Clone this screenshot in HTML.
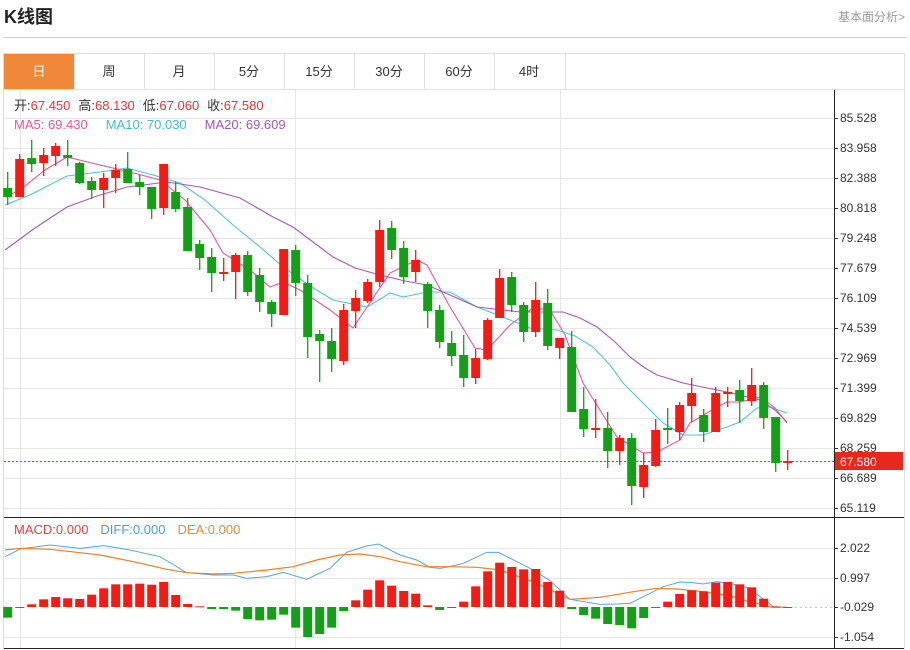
<!DOCTYPE html>
<html><head><meta charset="utf-8"><style>
body{margin:0;background:#fff;width:910px;height:650px;overflow:hidden;font-family:"Liberation Sans","Noto Sans CJK SC",sans-serif;}
</style></head><body>
<svg id="s" width="910" height="650" xmlns="http://www.w3.org/2000/svg" style="position:absolute;left:0;top:0;font-family:'Liberation Sans','Noto Sans CJK SC',sans-serif">
<text x="4" y="23" font-size="18" font-weight="bold" fill="#222">K线图</text>
<text x="905" y="21" font-size="12" fill="#999" text-anchor="end">基本面分析&gt;</text>
<line x1="3" y1="37.5" x2="906" y2="37.5" stroke="#ccc"/>
<rect x="3.5" y="53.5" width="901" height="595" fill="none" stroke="#ddd"/>
<rect x="4" y="54" width="70" height="35" fill="#f0883a"/>
<g stroke="#e2e2e2"><line x1="74.5" y1="54" x2="74.5" y2="89"/><line x1="144.5" y1="54" x2="144.5" y2="89"/><line x1="214.5" y1="54" x2="214.5" y2="89"/><line x1="284.5" y1="54" x2="284.5" y2="89"/><line x1="354.5" y1="54" x2="354.5" y2="89"/><line x1="424.5" y1="54" x2="424.5" y2="89"/><line x1="494.5" y1="54" x2="494.5" y2="89"/><line x1="565.5" y1="54" x2="565.5" y2="89"/><line x1="4" y1="89.5" x2="904" y2="89.5"/></g>
<g font-size="13" text-anchor="middle" fill="#333"><text x="39" y="76" fill="#fff">日</text><text x="109" y="76">周</text><text x="179" y="76">月</text><text x="249" y="76">5分</text><text x="319" y="76">15分</text><text x="389" y="76">30分</text><text x="459" y="76">60分</text><text x="529" y="76">4时</text></g>
<g id="grid" stroke="#e6e6e6"></g>
<line x1="834.5" y1="90" x2="834.5" y2="648" stroke="#222"/>
<line x1="4" y1="517.5" x2="904" y2="517.5" stroke="#222"/>
<line x1="4" y1="648.5" x2="904" y2="648.5" stroke="#222"/>
<g id="ma"></g><g id="c"></g>
<line x1="4" y1="461.5" x2="834" y2="461.5" stroke="#f33" stroke-dasharray="2,2"/>
<rect x="835" y="452" width="68" height="18" fill="#e8271f"/>
<text x="840" y="466" font-size="12" fill="#fff">67.580</text>
<g font-size="12" id="lab" fill="#333"></g>
<g font-size="13">
<text x="14" y="110"><tspan fill="#333">开:</tspan><tspan fill="#e33">67.450</tspan><tspan fill="#333" dx="8">高:</tspan><tspan fill="#e33">68.130</tspan><tspan fill="#333" dx="8">低:</tspan><tspan fill="#e33">67.060</tspan><tspan fill="#333" dx="8">收:</tspan><tspan fill="#e33">67.580</tspan></text>
<text x="14" y="129"><tspan fill="#e8559a">MA5: 69.430</tspan><tspan fill="#3bbfd0" dx="18">MA10: 70.030</tspan><tspan fill="#a056c0" dx="18">MA20: 69.609</tspan></text>
<text x="14" y="534"><tspan fill="#e84040">MACD:0.000</tspan><tspan fill="#4a9de0" dx="12">DIFF:0.000</tspan><tspan fill="#f08a30" dx="12">DEA:0.000</tspan></text>
</g>
</svg>
<script>
var NS="http://www.w3.org/2000/svg";
function el(p,t,a){var e=document.createElementNS(NS,t);for(var k in a)e.setAttribute(k,a[k]);document.getElementById(p).appendChild(e);return e;}
var ticks=["85.528","83.958","82.388","80.818","79.248","77.679","76.109","74.539","72.969","71.399","69.829","68.259","66.689","65.119"];
ticks.forEach(function(t,i){var y=118+30*i;el("grid","line",{x1:4,x2:834,y1:y+.5,y2:y+.5});el("lab","line",{x1:834,x2:838,y1:y+.5,y2:y+.5,stroke:"#333"});var tx=el("lab","text",{x:840,y:y+4});tx.textContent=t;});
[["2.022",548],["0.997",578],["-0.029",607],["-1.054",637]].forEach(function(a){var y=a[1];if(a[0]!="-0.029")el("grid","line",{x1:4,x2:834,y1:y+.5,y2:y+.5});el("lab","line",{x1:834,x2:838,y1:y+.5,y2:y+.5,stroke:"#333"});var tx=el("lab","text",{x:840,y:y+4});tx.textContent=a[0];});
[20,295,560].forEach(function(x){el("grid","line",{x1:x+.5,x2:x+.5,y1:90,y2:648});});
el("grid","line",{x1:790,x2:834,y1:607.5,y2:607.5,stroke:"#bcd","stroke-dasharray":"2,3"});
var C=[[188,197,172,205,0],[159,197,154,197,1],[158,164,140,172,0],[155,163,148,176,1],[146,156,143,166,1],[155,158,140,166,0],[163,183,162,184,0],[181,190,177,199,0],[178,190,173,208,1],[170,178,164,193,1],[169,183,152,183,0],[182,187,175,195,0],[187,209,187,219,0],[164,208,164,215,1],[192,209,182,212,0],[207,251,198,251,0],[244,258,240,270,0],[257,273,248,292,0],[272,273,258,281,1],[255,272,253,299,1],[255,292,251,296,0],[275,302,268,312,0],[302,314,300,327,0],[249,315,249,315,1],[250,283,245,296,0],[283,337,275,358,0],[334,341,330,382,0],[341,359,328,372,0],[310,361,304,365,1],[298,311,290,328,1],[282,301,279,303,1],[230,282,220,287,1],[228,250,221,259,0],[248,277,241,284,0],[260,272,250,282,1],[284,311,282,328,0],[310,342,305,348,0],[343,356,331,366,0],[355,378,335,387,0],[358,378,349,384,1],[320,359,318,360,1],[278,318,269,318,1],[277,305,272,312,0],[305,332,302,342,0],[300,332,282,337,1],[303,346,289,350,0],[338,348,338,359,1],[347,412,331,412,0],[409,429,387,437,0],[428,429,399,438,1],[428,451,412,468,0],[438,451,435,465,1],[438,486,433,505,0],[465,487,453,498,1],[430,466,419,467,1],[428,430,408,444,0],[405,432,402,440,1],[393,406,378,422,1],[415,432,409,442,0],[393,432,387,432,1],[392,393,387,407,1],[390,401,380,423,0],[385,401,368,406,1],[385,418,382,429,0],[417,463,417,472,0],[461,463,450,470,1]];
var H=[323,293,283,268,261,265,267,254,235,223,223,221,224,216,255,282,289,297,297,302,327,331,329,314,353,381,372,353,303,271,239,211,227,243,251,286,300,294,275,229,184,158,171,178,177,216,242,297,315,326,342,345,355,324,294,275,252,241,244,218,216,223,232,266,290,292];
var R="#f21c14",G="#13a018";
C.forEach(function(c,i){var x=7.7+12*i,col=c[4]?R:G;el("c","line",{x1:x,x2:x,y1:c[2],y2:c[3],stroke:col,"stroke-width":1.3});var h=Math.max(c[1]-c[0],2);el("c","rect",{x:x-4.5,y:c[0],width:9,height:h,fill:col});
var hy=510+H[i]/3,z=607;if(Math.abs(hy-z)>0.3){var t=Math.min(hy,z),hh=Math.max(Math.abs(hy-z),1);el("c","rect",{x:x-4.5,y:t,width:9,height:hh,fill:hy<z?R:G});}});
function pl(pts,col,w){el("ma","polyline",{points:pts.map(function(p){return p.join(",")}).join(" "),fill:"none",stroke:col,"stroke-width":w||1.1});}
pl([[5,197],[20,190],[45,170],[67,157],[100,165],[130,172],[160,180],[185,200],[210,230],[223,253],[250,270],[270,287],[283,282],[300,290],[330,310],[353,328],[367,307],[390,273],[417,260],[427,265],[450,307],[475,348],[487,350],[510,325],[533,308],[550,310],[565,335],[583,383],[600,410],[617,437],[643,453],[657,452],[680,440],[690,423],[717,407],[727,402],[740,402],[760,397],[775,408],[787,423]],"#e8559a");
pl([[5,205],[30,195],[67,176],[100,172],[127,168],[153,175],[180,183],[205,200],[233,225],[260,247],[283,267],[310,286],[333,300],[367,307],[390,293],[403,297],[427,292],[450,292],[477,307],[500,316],[530,328],[557,330],[575,336],[593,347],[610,365],[623,383],[645,405],[663,423],[683,435],[703,435],[727,427],[740,422],[757,408],[770,407],[787,413]],"#4fc3d8");
pl([[5,250],[35,228],[67,207],[97,196],[127,187],[167,182],[200,187],[240,198],[273,217],[293,227],[313,242],[333,257],[355,268],[380,275],[405,281],[427,285],[450,295],[477,307],[520,312],[563,312],[580,318],[597,327],[615,342],[630,357],[645,368],[657,375],[683,383],[727,392],[760,400],[775,410],[787,422]],"#a45ab8");
function M(a,off){return a.map(function(p){return [off+p[0]/3,510+p[1]/3];});}
pl(M([[15,140],[60,117],[150,105],[240,115],[310,107],[380,118],[480,140],[560,188],[640,195],[700,195],[740,205],[800,200],[850,187],[920,208],[990,175],[1040,127],[1100,108],[1135,102],[1200,135],[1250,150],[1290,172],[1320,175],[1350,170]],0).concat(M([[0,170],[40,160],[110,127],[145,127],[250,180],[300,212],[360,268],[450,283],[500,282],[540,280],[640,230],[690,216],[720,217],[760,222],[800,215],[840,220],[900,235],[930,260],[970,290],[1010,292]],450)),"#5ba3e0",1);
pl(M([[15,120],[60,115],[150,118],[230,127],[300,135],[400,155],[500,178],[560,188],[640,192],[700,190],[800,180],[880,170],[950,150],[1020,135],[1080,132],[1140,140],[1200,155],[1280,170],[1350,170]],0).concat(M([[0,170],[80,172],[150,180],[250,215],[360,268],[450,262],[550,245],[620,235],[680,237],[760,245],[830,255],[900,275],[960,290],[1010,292]],450)),"#f0802a",1.2);
</script>
</body></html>
